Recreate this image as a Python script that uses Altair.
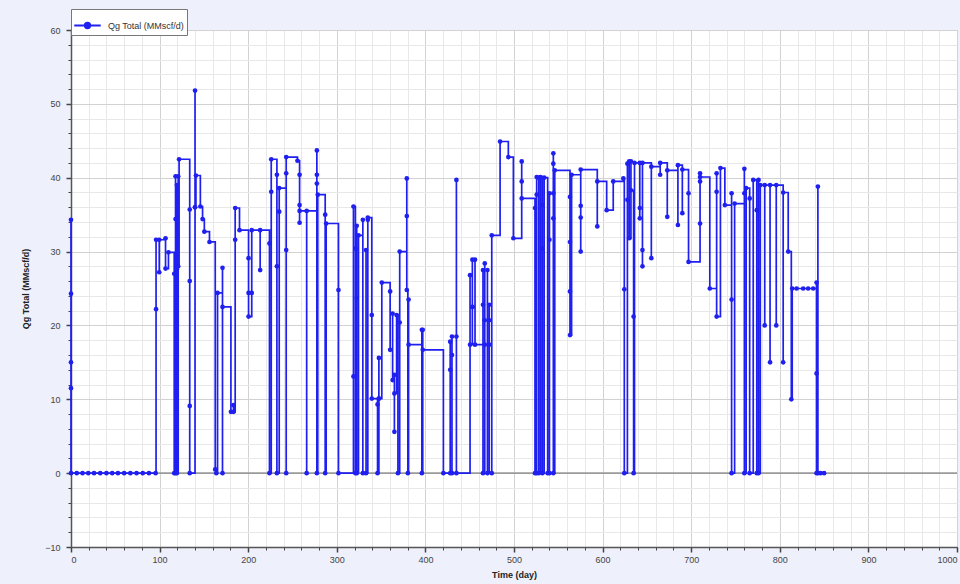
import altair as alt
import pandas as pd

SERIES = "Qg Total (MMscf/d)"
BLUE = "#1f1ff0"

# (day, value) readings in drawing order; line uses step-after interpolation
days = [
    0, 0, 0, 0, 0, 6.5, 13, 19.5, 26, 33, 40, 46.5, 53, 60, 67, 74, 81, 88, 95.5,
    96, 96, 99.6, 99.6, 106.7, 106.7, 110, 116.5, 116.5, 118, 118, 118, 119.5, 119.5, 119.5,
    121, 121, 122, 134, 134, 134, 134, 140, 140, 140, 141, 146, 148.5, 150.5, 156.3,
    162.8, 164, 165.4, 171, 171, 171, 180.5, 183.4, 183.4, 185.3, 185.3, 190.2,
    200.4, 200.4, 200.4, 204, 204, 213.5, 213.5, 224, 224, 226, 226,
    232.4, 232.4, 232.4, 235, 235, 242.9, 242.9, 242.9, 242.9, 255.6,
    258, 258, 258, 258, 266, 266, 277.5, 277.5, 277.5, 277.5, 278.5, 286.9, 286.9, 288,
    301.9, 301.9, 318.8, 318.8, 321, 321, 322.5, 322.5, 322.5, 324.5, 329.4, 329.4,
    333, 333, 335, 335, 339.5, 339.5, 346, 346, 347.5, 347.5, 347.5, 350.8,
    360.2, 360.2, 363, 363, 365, 365, 365, 367.5, 369, 371, 371, 379, 379, 379, 380.2,
    381, 381, 396, 396, 397, 397, 420.3, 428, 428, 428, 430, 430, 430, 435, 435, 435,
    450.4, 450.4, 453, 453, 456, 456, 465, 465, 465, 467, 467, 467, 470, 470,
    472, 472, 472, 474.9, 474.9, 484.3, 493.6, 499.3, 508.7, 508.7, 508.7,
    523.7, 523.7, 525.6, 525.6, 525.6, 528, 528, 530, 532, 532, 532, 534, 538,
    540, 540, 540, 544.4, 544.4, 544.4, 544.4, 544.4, 546,
    563.2, 563.2, 563.2, 563.2, 565, 575.3, 575.3, 575.3, 575.3, 594, 594, 604.6, 612, 623.4,
    624.5, 624.5, 628, 628, 630, 630, 632, 632, 635, 635, 636, 642, 642, 642,
    645, 645, 645, 655, 655, 665, 665, 673, 673, 685, 685, 690, 690, 697, 697,
    710, 710, 710, 710, 721, 728.7, 728.7, 728.7, 733, 738, 745.6, 745.6, 745.6, 749,
    760, 760, 760, 762, 766, 766, 770, 774, 774, 776, 776, 778, 783, 783, 789, 789,
    796, 796, 803.8, 803.8, 809.5, 813, 814, 819, 826.4, 832, 837.7,
    841.5, 841.5, 841.5, 843, 843, 846, 850,
]
qg = [
    34.3, 24.3, 15, 11.5, 0, 0, 0, 0, 0, 0, 0, 0, 0, 0, 0, 0, 0, 0, 0,
    22.2, 31.6, 27.2, 31.6, 31.8, 27.7, 29.9, 27, 0, 34.4, 40.2, 0, 39, 27.6, 0,
    40.2, 28, 42.5, 35.7, 26, 9.1, 0, 36, 51.8, 36, 40.3, 36.1, 34.4, 32.7, 31.3,
    0.5, 0, 24.4, 0, 27.8, 22.5, 8.3, 9.2, 8.3, 31.6, 35.9, 32.9,
    29.1, 24.4, 21.2, 24.4, 32.9, 27.5, 32.9, 31.1, 0, 38.1, 42.5,
    40.4, 28, 0, 35.4, 38.6, 0, 30.2, 40.6, 42.8, 42.3,
    40.4, 36.3, 33.9, 35.5, 0, 35.5, 43.7, 40.4, 39.2, 0, 37.7, 35, 0, 33.8,
    24.8, 0, 13.1, 36.1, 30.4, 0, 33.5, 23.7, 0, 32.2, 34.3, 0,
    30.2, 0, 34.3, 34.6, 21.4, 10.1, 9.3, 0, 10.1, 15.6, 10.1, 25.8,
    24.6, 16.7, 21.6, 12.6, 5.6, 13.3, 10.8, 21.4, 0, 20.4, 30, 34.8, 39.9, 24.8, 0,
    23.5, 17.4, 19.4, 0, 19.4, 16.7, 0, 17.8, 14, 0, 16, 18.5, 0, 39.7, 18.5, 0,
    26.8, 17.4, 28.9, 22.5, 28.9, 17.4, 27.5, 22.8, 0, 28.4, 20.7, 17.4, 27.5, 0,
    22.8, 20.7, 17.4, 0, 32.2, 44.9, 42.8, 31.8, 42.2, 39.5, 37.2,
    35.9, 0, 37.7, 40.1, 0, 40, 0, 40.1, 36.3, 30.4, 0, 40, 0,
    37.9, 31.6, 0, 43.3, 41.9, 37.9, 34.5, 0, 41,
    37.4, 31.3, 24.6, 18.7, 40.4, 36.2, 34.6, 30, 41.1, 33.4, 39.5, 35.6, 39.5, 39.9,
    24.9, 0, 37, 41.9, 42.2, 31.8, 42.2, 38.3, 21.2, 0, 42, 35.9, 34.5, 42,
    30.2, 28, 42, 29.1, 41.5, 40.4, 42, 34.7, 41, 33.6, 41.7, 35.2, 41.1, 37.9, 28.6,
    40.6, 33.8, 39.5, 40.1, 25, 38.1, 40.6, 21.2, 41.3, 36.3, 37.9, 23.5, 0, 36.5,
    41.2, 37.9, 0, 38.6, 37.2, 0, 39.7, 35.6, 0, 39.7, 0, 39, 20, 39, 15, 39,
    20, 39, 15, 38, 30, 10, 25, 25, 25, 25, 25,
    25.8, 13.5, 0, 38.8, 0, 0, 0,
]

x_major = list(range(0, 1001, 100))
x_minor = list(range(0, 1001, 20))
y_major = list(range(-10, 61, 10))
y_minor = list(range(-10, 61, 2))

df = pd.DataFrame({"day": days, "qg": qg, "series": SERIES, "idx": range(len(days))})
zero_df = pd.DataFrame({"z": [0]})

xs = alt.Scale(domain=[0, 1000], nice=False, zero=False)
ys = alt.Scale(domain=[-10, 60], nice=False, zero=False)

FONT = "Liberation Sans"

minor = alt.Chart(df).mark_point(opacity=0).encode(
    x=alt.X("day:Q", scale=xs, axis=alt.Axis(
        values=x_minor, labels=False, title=None, orient="bottom", grid=True,
        gridColor="#e8e8e8", gridWidth=1, domain=False, tickColor="#444",
        tickSize=3, tickWidth=1)),
    y=alt.Y("qg:Q", scale=ys, axis=alt.Axis(
        values=y_minor, labels=False, title=None, orient="left", grid=True,
        gridColor="#e8e8e8", gridWidth=1, domain=False, tickColor="#444",
        tickSize=3, tickWidth=1)),
)

zero_rule = alt.Chart(zero_df).mark_rule(color="#9a9a9a", strokeWidth=1.6).encode(
    y=alt.Y("z:Q", scale=ys, axis=None)
)

line = alt.Chart(df).mark_line(
    interpolate="step-after", strokeWidth=1.7,
    point=alt.OverlayMarkDef(filled=True, size=22, opacity=1),
).encode(
    x=alt.X("day:Q", scale=xs, axis=alt.Axis(
        values=x_major, format="d", title="Time (day)", orient="bottom", grid=True,
        gridColor="#d2d2d2", domainColor="#555", domainWidth=1.5,
        tickColor="#444", tickSize=5, tickWidth=1.5, labelFontSize=9,
        labelColor="#444", labelFont=FONT, labelPadding=3,
        titleFont=FONT, titleFontSize=9, titleFontWeight="bold",
        titleColor="#222", titlePadding=6)),
    y=alt.Y("qg:Q", scale=ys, axis=alt.Axis(
        values=y_major, format="d", title="Qg Total (MMscf/d)", orient="left", grid=True,
        gridColor="#d2d2d2", domainColor="#555", domainWidth=1.5,
        tickColor="#444", tickSize=5, tickWidth=1.5, labelFontSize=9,
        labelColor="#444", labelFont=FONT, labelPadding=6,
        titleFont=FONT, titleFontSize=9, titleFontWeight="bold",
        titleColor="#222", titlePadding=14)),
    color=alt.Color("series:N", scale=alt.Scale(domain=[SERIES], range=[BLUE]),
                    legend=alt.Legend(
                        title=None, orient="none", legendX=0, legendY=-21,
                        direction="horizontal", fillColor="white",
                        strokeColor="#777", padding=2, cornerRadius=0,
                        symbolType="M-1,0L1,0M-0.2,0A0.2,0.2,0,1,1,0.2,0A0.2,0.2,0,1,1,-0.2,0Z",
                        symbolSize=700, symbolStrokeWidth=2,
                        symbolStrokeColor=BLUE, symbolFillColor=BLUE,
                        labelFont=FONT, labelFontSize=9, labelColor="#333",
                        labelOffset=6)),
    order=alt.Order("idx:Q"),
)

chart = alt.layer(minor, zero_rule, line).resolve_axis(
    x="independent", y="independent"
).properties(
    width=886, height=517, autosize="none",
    padding={"left": 71, "top": 30, "right": 3, "bottom": 37},
    background="#eef0fb",
).configure_view(fill="white", stroke="#888", strokeWidth=1)

chart.save("out.html", embed_options={"renderer": "svg", "actions": False})
